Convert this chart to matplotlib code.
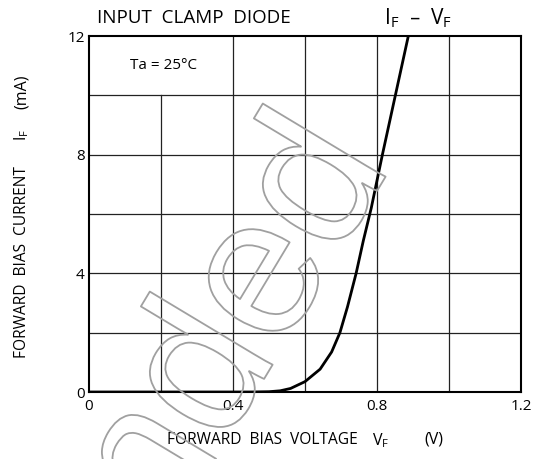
import matplotlib
matplotlib.use("Agg")
import matplotlib.pyplot as plt
import matplotlib.patheffects as pe

# Data
vf = [0.0, 0.45, 0.50, 0.531, 0.56, 0.60, 0.642, 0.674, 0.697, 0.718, 0.742, 0.762, 0.784, 0.815, 0.851, 0.887]
i_f = [0.0, 0.0, 0.01, 0.04, 0.12, 0.35, 0.77, 1.35, 2.0, 2.87, 4.0, 5.1, 6.2, 8.0, 10.0, 12.0]
x_ticks = [0, 0.4, 0.8, 1.2]
x_tick_labels = ["0", "0.4", "0.8", "1.2"]
y_ticks = [0, 4, 8, 12]
y_tick_labels = ["0", "4", "8", "12"]
x_grid = [0.2, 0.4, 0.6, 0.8, 1.0]
y_grid = [2, 4, 6, 8, 10]

plt.rcParams['font.family'] = ['Open Sans', 'DejaVu Sans']

W, H = 539, 459
fig = plt.figure(figsize=(W / 100, H / 100), dpi=100)
ax = fig.add_axes([89 / W, 1 - 392 / H, 432 / W, 356 / H])
ax.set_xlim(0, 1.2)
ax.set_ylim(0, 12)

# grid (vertical line at 0.2 stops below the label box)
for x in x_grid:
    top = 10 if x == 0.2 else 12
    ax.plot([x, x], [0, top], color='#222222', lw=0.9, zorder=1)
for y in y_grid:
    ax.plot([0, 1.2], [y, y], color='#222222', lw=0.9, zorder=1)

ax.plot(vf, i_f, color='black', lw=2.0, zorder=3, solid_capstyle='butt')

for s in ax.spines.values():
    s.set_linewidth(1.5)
    s.set_color('black')

ax.set_xticks(x_ticks)
ax.set_xticklabels(x_tick_labels)
ax.set_yticks(y_ticks)
ax.set_yticklabels(y_tick_labels)
ax.tick_params(length=0, labelsize=11, pad=3)
ax.tick_params(axis='x', pad=5)

ax.text(0.206, 11.0, "Ta = 25°C", ha='center', va='center', fontsize=11)

# Titles and labels
fig.text(97 / W, 1 - 18 / H, "INPUT  CLAMP  DIODE", ha='left', va='center', fontsize=13.5)
fig.text(384 / W, 1 - 18 / H, r"$\mathregular{I_F}$  –  $\mathregular{V_F}$", ha='left', va='center', fontsize=15)

# y label pieces
fig.text(22 / W, 1 - 358 / H, "FORWARD  BIAS  CURRENT", ha='center', va='bottom', rotation=90, fontsize=11.2)
fig.text(22 / W, 1 - 135 / H, r"$\mathregular{I_F}$", ha='center', va='center', rotation=90, fontsize=11.5)
fig.text(22 / W, 1 - 92 / H, "(mA)", ha='center', va='center', rotation=90, fontsize=11.5)

# x label pieces
fig.text(167 / W, 1 - 440 / H, "FORWARD  BIAS  VOLTAGE", ha='left', va='center', fontsize=11.2)
fig.text(372 / W, 1 - 441 / H, r"$\mathregular{V_F}$", ha='left', va='center', fontsize=11.5)
fig.text(443 / W, 1 - 440 / H, "(V)", ha='right', va='center', fontsize=11.5)

# Hollow watermark
fig.text(392 / W, 1 - 166 / H, "Recommended", ha='right', va='baseline', rotation=59,
         rotation_mode='anchor', fontsize=142, family='Liberation Sans', color='none',
         path_effects=[pe.Stroke(linewidth=1.3, foreground='#a0a0a0')], zorder=5)

fig.savefig("out.png", dpi=100)
